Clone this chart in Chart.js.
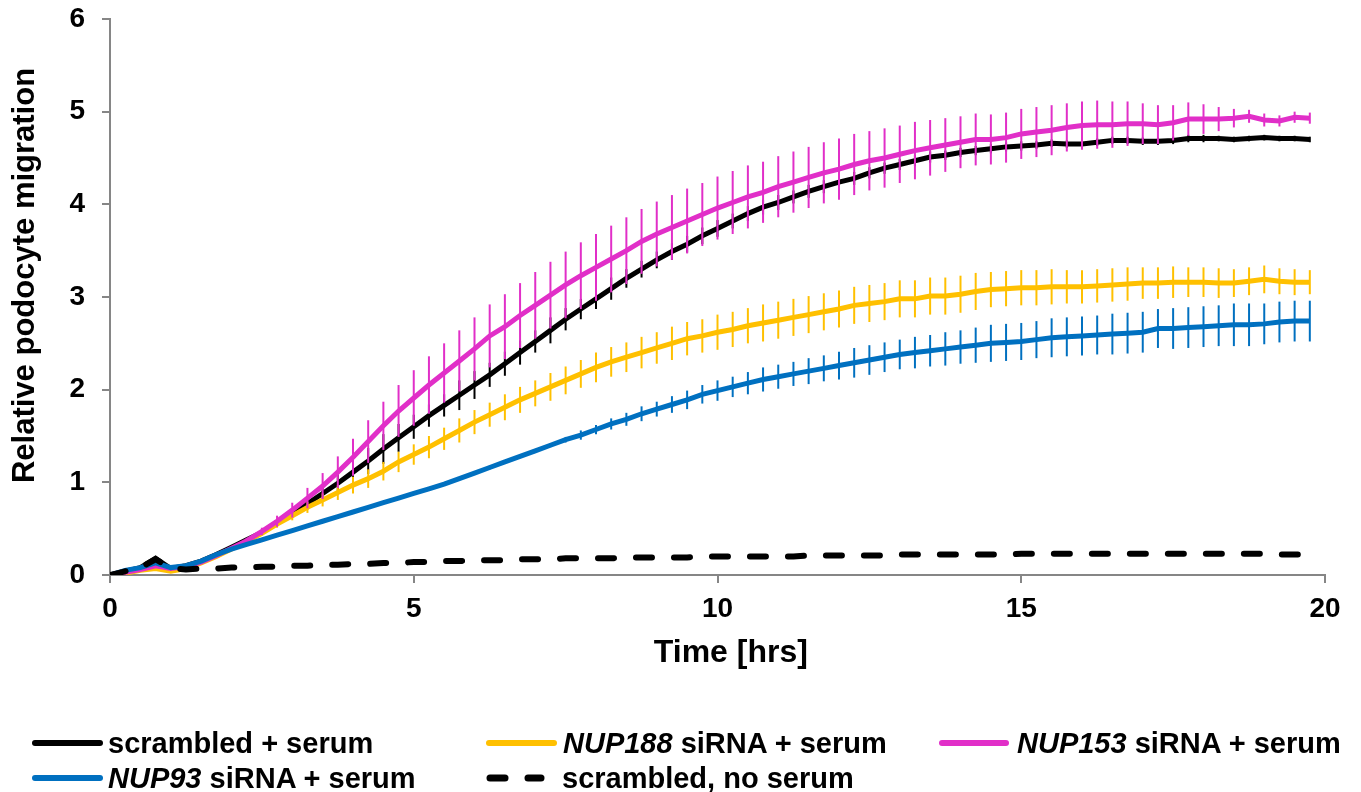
<!DOCTYPE html>
<html>
<head>
<meta charset="utf-8">
<script src="https://cdn.jsdelivr.net/npm/chart.js@4/dist/chart.umd.min.js"></script>
<style>
  html, body { margin: 0; padding: 0; background: #fff; }
  #wrap { position: relative; width: 1361px; height: 792px; }
  #c { position: absolute; left: 0; top: 0; }
  #legend { position: absolute; left: 0; top: 0; pointer-events: none; }
  .lab {
    position: absolute;
    font: bold 29px "Liberation Sans", Arial, sans-serif;
    line-height: 34px;
    white-space: nowrap;
    color: #000;
  }
</style>
</head>
<body>
<div id="wrap">
  <canvas id="c" width="1361" height="792"></canvas>
  <svg id="legend" width="1361" height="792">
    <line x1="35" y1="743" x2="100" y2="743" stroke="#000000" stroke-width="6" stroke-linecap="round"/>
    <line x1="489" y1="743" x2="554" y2="743" stroke="#FFC000" stroke-width="6" stroke-linecap="round"/>
    <line x1="942" y1="743" x2="1006" y2="743" stroke="#E12FC8" stroke-width="6" stroke-linecap="round"/>
    <line x1="35" y1="778" x2="100" y2="778" stroke="#0070C0" stroke-width="6" stroke-linecap="round"/>
    <line x1="490" y1="778" x2="505" y2="778" stroke="#000000" stroke-width="7" stroke-linecap="round"/>
    <line x1="528" y1="778" x2="541" y2="778" stroke="#000000" stroke-width="7" stroke-linecap="round"/>
  </svg>
  <div class="lab" style="left:108px; top:726px;">scrambled + serum</div>
  <div class="lab" style="left:563px; top:726px;"><i>NUP188</i> siRNA + serum</div>
  <div class="lab" style="left:1017px; top:726px;"><i>NUP153</i> siRNA + serum</div>
  <div class="lab" style="left:108px; top:761px;"><i>NUP93</i> siRNA + serum</div>
  <div class="lab" style="left:562px; top:761px;">scrambled, no serum</div>
</div>
<script>
// --- DATA --- //
// time points in hours (every 15 min)
const hours = [
  0, 0.25, 0.5, 0.75, 1, 1.25, 1.5, 1.75, 2, 2.25, 2.5, 2.75,
  3, 3.25, 3.5, 3.75, 4, 4.25, 4.5, 4.75, 5, 5.25, 5.5, 5.75,
  6, 6.25, 6.5, 6.75, 7, 7.25, 7.5, 7.75, 8, 8.25, 8.5, 8.75,
  9, 9.25, 9.5, 9.75, 10, 10.25, 10.5, 10.75, 11, 11.25, 11.5, 11.75,
  12, 12.25, 12.5, 12.75, 13, 13.25, 13.5, 13.75, 14, 14.25, 14.5, 14.75,
  15, 15.25, 15.5, 15.75, 16, 16.25, 16.5, 16.75, 17, 17.25, 17.5, 17.75,
  18, 18.25, 18.5, 18.75, 19, 19.25, 19.5, 19.75,
];

// scrambled + serum
const scrambled = [
  0, 0.04, 0.08, 0.18, 0.07, 0.1, 0.15, 0.22, 0.3, 0.38, 0.46, 0.57,
  0.67, 0.77, 0.88, 0.99, 1.11, 1.23, 1.36, 1.48, 1.6, 1.72, 1.83, 1.94,
  2.05, 2.16, 2.28, 2.4, 2.52, 2.64, 2.76, 2.87, 2.98, 3.09, 3.2, 3.3,
  3.4, 3.49, 3.57, 3.66, 3.74, 3.82, 3.9, 3.97, 4.02, 4.08, 4.14, 4.19,
  4.24, 4.28, 4.34, 4.39, 4.43, 4.47, 4.51, 4.53, 4.56, 4.58, 4.6, 4.62,
  4.63, 4.64, 4.66, 4.65, 4.65, 4.67, 4.69, 4.69, 4.68, 4.68, 4.69, 4.71,
  4.71, 4.71, 4.7, 4.71, 4.72, 4.71, 4.71, 4.7,
];
const scrambledErr = [
  0, 0, 0, 0, 0, 0, 0, 0, 0, 0, 0, 0.02,
  0.04, 0.06, 0.08, 0.1, 0.12, 0.14, 0.16, 0.15, 0.13, 0.12, 0.12, 0.16,
  0.15, 0.13, 0.13, 0.13, 0.12, 0.14, 0.12, 0.11, 0.11, 0.12, 0.1, 0.09,
  0.09, 0.09, 0.09, 0.09, 0.09, 0.08, 0.08, 0.08, 0.08, 0.07, 0.07, 0.07,
  0.07, 0.07, 0.06, 0.06, 0.06, 0.06, 0.06, 0.05, 0.05, 0.05, 0.05, 0.05,
  0.05, 0.04, 0.04, 0.04, 0.04, 0.04, 0.04, 0.04, 0.04, 0.04, 0.04, 0.04,
  0.04, 0.03, 0.03, 0.03, 0.03, 0.03, 0.03, 0.03,
];

// NUP188 siRNA + serum
const nup188 = [
  0, 0.02, 0.05, 0.07, 0.04, 0.07, 0.13, 0.2, 0.28, 0.36, 0.45, 0.55,
  0.64, 0.73, 0.81, 0.89, 0.97, 1.04, 1.12, 1.22, 1.3, 1.38, 1.47, 1.56,
  1.65, 1.73, 1.81, 1.89, 1.96, 2.03, 2.1, 2.17, 2.24, 2.3, 2.35, 2.4,
  2.45, 2.5, 2.55, 2.58, 2.62, 2.65, 2.69, 2.72, 2.75, 2.78, 2.81, 2.84,
  2.87, 2.91, 2.93, 2.95, 2.98, 2.98, 3.01, 3.01, 3.03, 3.06, 3.08, 3.09,
  3.1, 3.1, 3.11, 3.11, 3.11, 3.12, 3.13, 3.14, 3.15, 3.15, 3.16, 3.16,
  3.16, 3.15, 3.15, 3.17, 3.19, 3.17, 3.16, 3.16,
];
const nup188Err = [
  0, 0, 0, 0, 0, 0, 0, 0, 0, 0, 0.02, 0.04,
  0.05, 0.06, 0.07, 0.08, 0.09, 0.1, 0.1, 0.11, 0.11, 0.12, 0.12, 0.13,
  0.13, 0.13, 0.14, 0.14, 0.14, 0.15, 0.15, 0.15, 0.16, 0.16, 0.16, 0.17,
  0.17, 0.18, 0.18, 0.18, 0.19, 0.19, 0.19, 0.2, 0.2, 0.2, 0.2, 0.2,
  0.2, 0.2, 0.2, 0.2, 0.2, 0.2, 0.2, 0.2, 0.2, 0.2, 0.19, 0.19,
  0.19, 0.19, 0.19, 0.18, 0.18, 0.18, 0.18, 0.18, 0.17, 0.17, 0.17, 0.16,
  0.16, 0.16, 0.15, 0.15, 0.15, 0.14, 0.14, 0.13,
];

// NUP153 siRNA + serum
const nup153 = [
  0, 0.03, 0.06, 0.1, 0.07, 0.09, 0.14, 0.21, 0.29, 0.37, 0.47, 0.58,
  0.7, 0.83, 0.96, 1.11, 1.27, 1.44, 1.61, 1.77, 1.91, 2.05, 2.18, 2.31,
  2.44, 2.58, 2.68, 2.8, 2.91, 3.02, 3.13, 3.23, 3.32, 3.41, 3.5, 3.6,
  3.68, 3.75, 3.82, 3.89, 3.96, 4.02, 4.08, 4.13, 4.19, 4.24, 4.29, 4.34,
  4.38, 4.43, 4.47, 4.5, 4.54, 4.58, 4.61, 4.64, 4.67, 4.7, 4.7, 4.72,
  4.76, 4.78, 4.8, 4.83, 4.85, 4.86, 4.86, 4.87, 4.87, 4.86, 4.88, 4.92,
  4.92, 4.92, 4.93, 4.95, 4.91, 4.9, 4.94, 4.93,
];
const nup153Err = [
  0, 0, 0, 0, 0, 0, 0, 0.01, 0.02, 0.03, 0.04, 0.06,
  0.08, 0.11, 0.14, 0.17, 0.2, 0.23, 0.26, 0.28, 0.3, 0.31, 0.32, 0.33,
  0.34, 0.34, 0.35, 0.35, 0.36, 0.36, 0.36, 0.36, 0.36, 0.36, 0.36, 0.35,
  0.35, 0.35, 0.35, 0.34, 0.34, 0.34, 0.34, 0.33, 0.33, 0.33, 0.33, 0.33,
  0.33, 0.33, 0.32, 0.32, 0.31, 0.31, 0.3, 0.29, 0.28, 0.28, 0.27, 0.27,
  0.27, 0.27, 0.27, 0.26, 0.26, 0.26, 0.25, 0.24, 0.22, 0.21, 0.19, 0.18,
  0.16, 0.13, 0.1, 0.07, 0.07, 0.06, 0.06, 0.06,
];

// NUP93 siRNA + serum
const nup93 = [
  0, 0.05, 0.08, 0.13, 0.08, 0.1, 0.15, 0.22, 0.28, 0.33, 0.38, 0.43,
  0.48, 0.53, 0.58, 0.63, 0.68, 0.73, 0.78, 0.83, 0.88, 0.93, 0.98, 1.04,
  1.1, 1.16, 1.22, 1.28, 1.34, 1.4, 1.46, 1.51, 1.57, 1.63, 1.68, 1.74,
  1.79, 1.84, 1.89, 1.95, 1.99, 2.03, 2.07, 2.11, 2.14, 2.17, 2.2, 2.23,
  2.26, 2.29, 2.32, 2.35, 2.38, 2.4, 2.42, 2.44, 2.46, 2.48, 2.5, 2.51,
  2.52, 2.54, 2.56, 2.57, 2.58, 2.59, 2.6, 2.61, 2.62, 2.66, 2.66, 2.67,
  2.68, 2.69, 2.7, 2.7, 2.71, 2.73, 2.74, 2.74,
];
const nup93Err = [
  0, 0, 0, 0, 0, 0, 0, 0, 0, 0, 0, 0,
  0, 0, 0, 0, 0, 0, 0, 0, 0.01, 0.01, 0.01, 0.01,
  0.02, 0.02, 0.02, 0.02, 0.02, 0.02, 0.03, 0.05, 0.05, 0.06, 0.07, 0.08,
  0.08, 0.09, 0.1, 0.1, 0.11, 0.11, 0.12, 0.13, 0.13, 0.13, 0.14, 0.14,
  0.15, 0.16, 0.16, 0.16, 0.16, 0.17, 0.17, 0.18, 0.18, 0.19, 0.2, 0.2,
  0.2, 0.2, 0.21, 0.21, 0.21, 0.21, 0.22, 0.22, 0.22, 0.21, 0.22, 0.22,
  0.22, 0.22, 0.23, 0.23, 0.22, 0.22, 0.22, 0.22,
];

// scrambled, no serum
const noSerum = [
  0, 0.04, 0.08, 0.17, 0.07, 0.06, 0.07, 0.07, 0.08, 0.08, 0.09, 0.09,
  0.1, 0.1, 0.11, 0.11, 0.12, 0.12, 0.13, 0.13, 0.14, 0.14, 0.15, 0.15,
  0.16, 0.16, 0.16, 0.17, 0.17, 0.17, 0.18, 0.18, 0.18, 0.18, 0.19, 0.19,
  0.19, 0.19, 0.19, 0.2, 0.2, 0.2, 0.2, 0.2, 0.2, 0.2, 0.21, 0.21,
  0.21, 0.21, 0.21, 0.21, 0.22, 0.22, 0.22, 0.22, 0.22, 0.22, 0.22, 0.22,
  0.23, 0.23, 0.23, 0.23, 0.23, 0.23, 0.23, 0.23, 0.23, 0.23, 0.23, 0.23,
  0.23, 0.23, 0.23, 0.23, 0.23, 0.22, 0.22, 0.22,
];

const xTicks = [0, 5, 10, 15, 20];
const yTicks = [0, 1, 2, 3, 4, 5, 6];

// --- HELPERS --- //
const pts = (vals) => vals.map((v, i) => ({ x: hours[i], y: v }));

// draws vertical error bars right after each dataset, using the chart scales
const errorBars = {
  id: "errorBars",
  afterDatasetDraw(chart, args) {
    const ds = chart.data.datasets[args.index];
    if (!ds.errors) return;
    const { ctx, scales } = chart;
    const x = scales.x;
    const y = scales.y;
    ctx.save();
    ctx.strokeStyle = ds.borderColor;
    ctx.lineWidth = 2;
    ds.data.forEach((p, i) => {
      const e = ds.errors[i];
      if (!e) return;
      const px = x.getPixelForValue(p.x);
      ctx.beginPath();
      ctx.moveTo(px, y.getPixelForValue(p.y - e));
      ctx.lineTo(px, y.getPixelForValue(p.y + e));
      ctx.stroke();
    });
    ctx.restore();
  },
};

Chart.defaults.font.family = '"Liberation Sans", Arial, sans-serif';
Chart.defaults.color = "#000";

// --- CHART --- //
new Chart(document.getElementById("c"), {
  type: "line",
  data: {
    datasets: [
      {
        label: "scrambled + serum",
        data: pts(scrambled),
        errors: scrambledErr,
        borderColor: "#000000",
        borderWidth: 5,
        order: 5,
      },
      {
        label: "NUP188 siRNA + serum",
        data: pts(nup188),
        errors: nup188Err,
        borderColor: "#FFC000",
        borderWidth: 5,
        order: 4,
      },
      {
        label: "NUP153 siRNA + serum",
        data: pts(nup153),
        errors: nup153Err,
        borderColor: "#E12FC8",
        borderWidth: 5,
        order: 3,
      },
      {
        label: "NUP93 siRNA + serum",
        data: pts(nup93),
        errors: nup93Err,
        borderColor: "#0070C0",
        borderWidth: 5,
        order: 2,
      },
      {
        label: "scrambled, no serum",
        data: pts(noSerum),
        borderColor: "#000000",
        borderWidth: 6,
        borderDash: [16, 22],
        borderCapStyle: "round",
        order: 1,
      },
    ],
  },
  options: {
    responsive: false,
    animation: false,
    events: [],
    elements: {
      point: { radius: 0 },
      line: { tension: 0, fill: false },
    },
    layout: {
      padding: { top: 0, right: 36, bottom: 100, left: 0 },
    },
    plugins: {
      legend: { display: false },
      tooltip: { enabled: false },
    },
    scales: {
      x: {
        type: "linear",
        min: 0,
        max: 20,
        afterBuildTicks: (s) => { s.ticks = xTicks.map((v) => ({ value: v })); },
        afterFit: (s) => { s.height = 117; },
        grid: { display: true, drawOnChartArea: false, drawTicks: true, tickLength: 8, color: "#868686", lineWidth: 2 },
        border: { display: true, color: "#868686", width: 2 },
        ticks: { font: { size: 28, weight: "bold" }, padding: 9, maxRotation: 0 },
        title: {
          display: true,
          // leading spaces nudge the title right, as in the original figure
          text: "   Time [hrs]",
          font: { size: 32, weight: "bold" },
          padding: { top: 0, bottom: 20 },
        },
      },
      y: {
        min: 0,
        max: 6,
        afterBuildTicks: (s) => { s.ticks = yTicks.map((v) => ({ value: v })); },
        afterFit: (s) => { s.width = 110; s.paddingTop = 19; },
        grid: { display: true, drawOnChartArea: false, drawTicks: true, tickLength: 8, color: "#868686", lineWidth: 2 },
        border: { display: true, color: "#868686", width: 2 },
        ticks: { font: { size: 28, weight: "bold" }, padding: 17 },
        title: {
          display: true,
          // leading spaces lift the rotated title, as in the original figure
          text: "     Relative podocyte migration",
          font: { size: 31, weight: "bold" },
          padding: { top: 7, bottom: 0 },
        },
      },
    },
  },
  plugins: [errorBars],
});
</script>
</body>
</html>
